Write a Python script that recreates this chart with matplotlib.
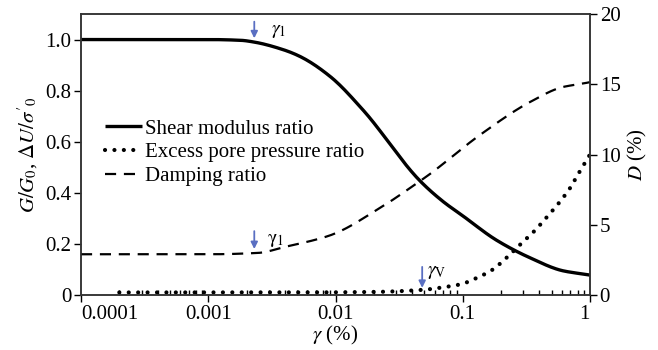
import matplotlib
matplotlib.use("Agg")
import matplotlib.pyplot as plt
from matplotlib.ticker import FixedLocator, LogLocator, NullFormatter
import numpy as np

plt.rcParams['font.family'] = ['Liberation Serif', 'DejaVu Serif']
plt.rcParams['mathtext.fontset'] = 'stix'

# Shear modulus ratio G/G0
g_strain = [0.0001, 0.0005, 0.001, 0.0018, 0.0023, 0.0039, 0.0053, 0.0091, 0.0164,
            0.0461, 0.07, 0.1, 0.185, 0.34, 0.61, 0.8, 1.0]
g_ratio = [1.0, 1.0, 1.0, 0.997, 0.99, 0.96, 0.933, 0.855, 0.725,
           0.447, 0.366, 0.31, 0.214, 0.145, 0.095, 0.085, 0.078]

# Excess pore pressure ratio
u_strain = [0.0002, 0.001, 0.005, 0.02, 0.048, 0.07, 0.098, 0.129, 0.17, 0.22,
            0.28, 0.36, 0.46, 0.58, 0.70, 0.80, 1.0]
u_ratio = [0.01, 0.01, 0.01, 0.012, 0.02, 0.03, 0.043, 0.067, 0.098, 0.145,
           0.196, 0.247, 0.306, 0.365, 0.42, 0.47, 0.55]

# Damping ratio D (%)
d_strain = [0.0001, 0.001, 0.0025, 0.0039, 0.0091, 0.0224, 0.046, 0.055, 0.137,
            0.34, 0.61, 0.88, 1.0]
d_ratio = [2.9, 2.9, 3.0, 3.4, 4.25, 6.2, 8.1, 8.6, 11.4, 13.75, 14.8, 15.05, 15.15]

x_ticks = [0.0001, 0.001, 0.01, 0.1, 1]
x_labels = ['0.0001', '0.001', '0.01', '0.1', '1']
yl_ticks = [0, 0.2, 0.4, 0.6, 0.8, 1.0]
yl_labels = ['0', '0.2', '0.4', '0.6', '0.8', '1.0']
yr_ticks = [0, 5, 10, 15, 20]
yr_labels = ['0', '5', '10', '15', '20']

fig = plt.figure(figsize=(6.58, 3.5), dpi=100)
ax = fig.add_axes([81/658, 55/350, 509/658, 281/350])
ax2 = ax.twinx()

fs = 15
def smooth(xs, ys):
    lx = np.log10(xs)
    ys = np.asarray(ys, dtype=float)
    t = np.linspace(lx[0], lx[-1], 300)
    h = np.diff(lx); d = np.diff(ys) / h
    m = np.zeros(len(lx))
    for i in range(1, len(lx) - 1):
        if d[i-1] * d[i] > 0:
            w1 = 2*h[i] + h[i-1]; w2 = h[i] + 2*h[i-1]
            m[i] = (w1 + w2) / (w1/d[i-1] + w2/d[i])
    m[0] = d[0]; m[-1] = d[-1]
    out = np.empty_like(t)
    for j, tt in enumerate(t):
        i = min(np.searchsorted(lx, tt, side='right') - 1, len(lx) - 2)
        s = (tt - lx[i]) / h[i]
        h00 = 2*s**3 - 3*s**2 + 1; h10 = s**3 - 2*s**2 + s
        h01 = -2*s**3 + 3*s**2; h11 = s**3 - s**2
        out[j] = h00*ys[i] + h10*h[i]*m[i] + h01*ys[i+1] + h11*h[i]*m[i+1]
    return 10**t, out

gx, gy = smooth(g_strain, g_ratio)
l1, = ax.plot(gx, gy, color='black', lw=2.4, solid_capstyle='butt', label='Shear modulus ratio')
ux, uy = smooth(u_strain, u_ratio)
l2, = ax.plot(ux, uy, color='black', lw=3.0, linestyle=(0, (0.01, 2.25)),
              dash_capstyle='round', label='Excess pore pressure ratio')
dx, dy = smooth(d_strain, d_ratio)
l3, = ax2.plot(dx, dy, color='black', lw=1.6, linestyle=(0, (5.0, 3.5)), label='Damping ratio')

ax.set_xscale('log')
ax.set_xlim(1e-4, 1)
ax.set_ylim(0, 1.1)
ax2.set_ylim(0, 20)

ax.xaxis.set_major_locator(FixedLocator(x_ticks))
ax.set_xticklabels(x_labels)
ax.xaxis.set_minor_locator(LogLocator(base=10, subs=np.arange(2, 10)))
ax.xaxis.set_minor_formatter(NullFormatter())
ax.set_yticks(yl_ticks)
ax.set_yticklabels(yl_labels)
ax2.set_yticks(yr_ticks)
ax2.set_yticklabels(yr_labels)

ax.tick_params(axis='x', which='major', direction='out', length=5, width=1, labelsize=fs, pad=2)
ax.tick_params(axis='x', which='minor', direction='in', length=3.5, width=1)
ax.tick_params(axis='y', which='major', direction='out', length=5, width=1, labelsize=fs, pad=2)
ax2.tick_params(axis='y', which='major', direction='out', length=5, width=1, labelsize=fs, pad=2)

xtl = ax.get_xticklabels()
xtl[0].set_horizontalalignment('left')
xtl[-1].set_horizontalalignment('right')

for a in (ax, ax2):
    for s in a.spines.values():
        s.set_linewidth(1.1)
        s.set_color('#333333')

ax.set_xlabel(r'$\gamma$ (%)', fontsize=fs, labelpad=0)
ax.set_ylabel(r"$G/G_0$, $\Delta U/\sigma'_0$", fontsize=fs, labelpad=4)
ax2.set_ylabel(r'$D$ (%)', fontsize=fs, labelpad=4)

leg = ax.legend(handles=[l1, l2, l3], loc='upper left', bbox_to_anchor=(0.047, 0.626),
                frameon=False, fontsize=fs, handlelength=1.8, handletextpad=0.1,
                labelspacing=0.2, borderaxespad=0, borderpad=0)

blue = '#5a6fc2'
arrow = dict(arrowstyle='-|>', color=blue, lw=1.3, mutation_scale=10, shrinkA=0, shrinkB=0)
ax.annotate('', xy=(0.0023, 1.005), xytext=(0.0023, 1.07), arrowprops=arrow)
ax.text(0.0031, 1.03, r'$\gamma_1$', fontsize=14, va='center')
ax.annotate('', xy=(0.0023, 0.18), xytext=(0.0023, 0.25), arrowprops=arrow)
ax.text(0.0029, 0.215, r'$\mathrm{\gamma}_1$', fontsize=14, va='center')
ax.annotate('', xy=(0.048, 0.028), xytext=(0.048, 0.11), arrowprops=arrow)
ax.text(0.052, 0.09, r'$\gamma_\mathrm{V}$', fontsize=14, va='center')

fig.savefig('out.png', dpi=100)
